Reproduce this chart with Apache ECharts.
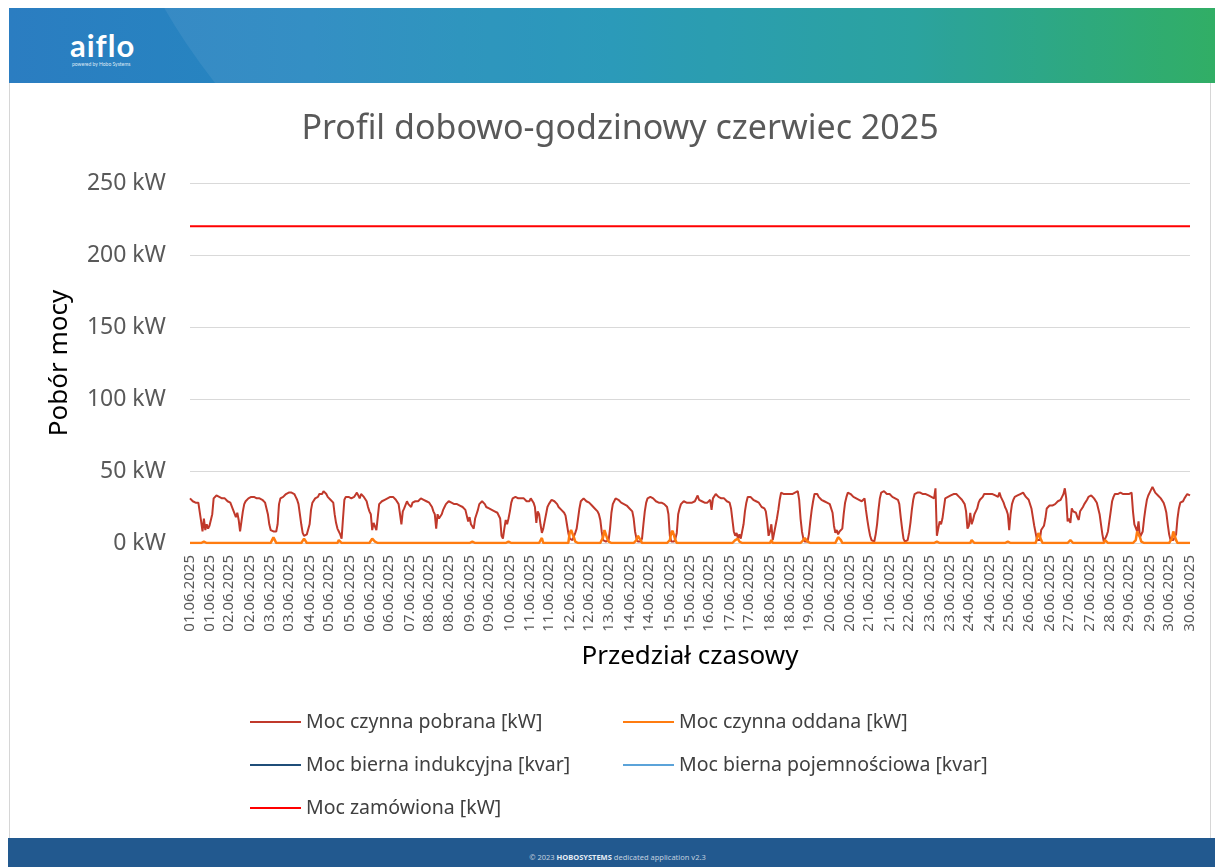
<!DOCTYPE html>
<html>
<head>
<meta charset="utf-8">
<title>Profil dobowo-godzinowy czerwiec 2025</title>
<script src="https://cdn.jsdelivr.net/npm/echarts@6/dist/echarts.min.js"></script>
<style>
body {
  margin: 0px;
  padding: 0px;
  width: 1215px;
  height: 867px;
  overflow: hidden;
  position: relative;
  background: #fff;
  font-family: "Noto Sans", sans-serif;
}
#head {
  position: absolute;
  left: 9px;
  top: 8px;
  width: 1206px;
  height: 75px;
  overflow: hidden;
  background: linear-gradient(90deg, #2b7dc1 0%, #2587c0 25%, #1b93b4 50%, #1b9c98 75%, #22a85a 100%);
}
#head .arc {
  position: absolute;
  left: 73px;
  top: -926px;
  width: 3000px;
  height: 1236px;
  border-radius: 618px 0 0 618px;
  background: rgba(255, 255, 255, 0.07);
}
#logo {
  position: absolute;
  left: 61px;
  top: 18px;
  color: #fff;
  font-family: Lato, sans-serif;
  font-weight: bold;
  font-size: 31px;
  letter-spacing: 1px;
}
#logo small {
  display: block;
  font-size: 5px;
  font-weight: normal;
  margin-top: -3px;
  margin-left: 2px;
  letter-spacing: 0px;
  color: #dfeaf5;
}
#panel {
  position: absolute;
  left: 9px;
  top: 83px;
  width: 1202px;
  height: 755px;
  border-left: 1px solid #d6d6d6;
  border-right: 1px solid #d6d6d6;
  box-sizing: border-box;
}
#foot {
  position: absolute;
  left: 8px;
  top: 838px;
  width: 1207px;
  height: 29px;
  background: #22598f;
  color: #c2d0df;
  font-size: 7.5px;
  text-align: center;
  line-height: 38px;
  padding-left: 12px;
  box-sizing: border-box;
}
#foot b { color: #e6edf5; }
#chart {
  position: absolute;
  left: 0px;
  top: 0px;
  width: 1215px;
  height: 867px;
  z-index: 2;
}
</style>
</head>
<body>
<div id="head"><div class="arc"></div><div id="logo">aiflo<small>powered by Hobo Systems</small></div></div>
<div id="panel"></div>
<div id="foot">© 2023 <b>HOBOSYSTEMS</b> dedicated application v2.3</div>
<div id="chart"></div>
<script>
// moc czynna pobrana [kW], wartości godzinowe, jeden wiersz = jeden dzień
const pobrana = [
  31,30,29,28,28,28,28,27,15,8,17,9,13,10,12,12,20,31,32,33,33,32,32,31,
  31,31,30,29,29,28,27,23,22,18,21,16,8,15,22,27,29,30,31,31,32,32,32,32,
  31,31,31,30,30,29,28,27,20,13,9,8,8,7,8,13,27,31,31,32,32,34,35,35,
  35,35,35,34,32,30,27,20,13,7,5,5,6,7,13,23,28,29,31,32,32,34,35,34,
  36,36,34,32,31,30,29,28,20,14,10,8,6,3,17,30,32,31,32,31,31,31,32,31,
  35,34,31,34,34,32,31,29,25,22,20,9,14,13,9,10,27,28,29,29,30,30,31,32,
  32,33,32,31,30,29,27,20,13,22,24,25,29,27,28,25,28,28,29,28,29,30,31,31,
  30,29,29,28,28,27,25,22,20,10,20,17,18,20,23,25,27,28,29,29,28,28,27,27,
  27,26,26,25,25,25,23,22,15,18,13,14,10,17,20,23,27,28,29,28,27,25,25,24,
  24,23,23,22,22,21,20,17,5,3,10,16,13,17,22,28,31,30,32,32,31,32,31,30,
  31,30,29,29,29,31,32,28,25,14,22,20,13,7,10,15,20,25,27,28,30,30,29,28,
  27,25,24,23,22,21,19,13,7,3,2,2,3,7,10,17,24,29,30,31,30,29,28,28,
  27,26,25,24,23,22,20,16,8,2,1,1,2,2,10,21,27,29,31,31,30,29,28,28,
  27,27,26,25,24,23,22,17,8,3,1,1,1,3,13,22,28,31,32,32,32,31,30,29,
  29,28,28,28,27,27,26,25,20,5,1,1,1,3,7,20,24,27,28,29,28,28,28,28,
  28,28,28,29,30,33,30,29,29,28,28,28,28,29,30,23,31,32,34,33,32,32,31,31,
  31,30,29,29,28,24,16,8,5,7,3,6,3,2,13,22,28,32,32,32,31,30,29,29,
  28,28,27,25,25,24,22,15,5,8,13,2,7,12,17,23,30,35,35,34,34,34,34,34,
  34,34,34,35,35,36,30,17,8,3,1,2,1,6,15,23,29,34,35,34,32,31,30,29,
  29,29,28,28,27,27,21,12,7,9,6,8,8,10,20,28,32,35,35,34,33,32,32,31,
  31,30,30,29,28,31,23,16,10,5,2,1,1,6,13,23,31,35,36,36,35,34,34,34,
  33,32,32,31,31,30,27,18,10,3,1,1,2,7,14,23,30,34,35,35,36,35,35,34,
  34,34,33,33,32,32,31,31,38,5,10,15,13,17,24,31,32,32,32,33,34,34,35,34,
  34,32,31,30,29,27,22,10,12,21,13,16,20,22,24,28,30,31,32,34,34,34,35,34,
  34,34,34,33,33,32,35,32,31,28,25,23,20,9,20,27,30,32,32,33,34,34,35,35,
  36,32,31,30,29,24,18,12,7,2,1,2,9,9,12,17,24,25,26,26,26,27,27,28,
  29,29,30,32,34,38,31,15,17,14,24,22,23,21,18,16,22,23,25,27,28,30,32,33,
  33,32,31,30,28,24,20,13,6,1,3,5,8,15,22,29,32,34,34,34,35,35,35,34,
  34,34,34,34,34,35,22,13,12,8,15,4,5,8,17,24,30,33,35,36,39,37,35,34,
  33,32,31,30,28,25,21,13,6,2,3,2,2,6,17,24,28,27,29,31,32,34,34,33
];

// moc czynna oddana [kW]
const oddana = [
  0,0,0,0,0,0,0,0,0,0,1,2,0,0,0,0,0,0,0,0,0,0,0,0,
  0,0,0,0,0,0,0,0,0,0,0,0,0,1,0,0,0,0,0,0,0,0,0,0,
  0,0,0,0,0,0,0,0,0,0,0,2,4,2,0,0,0,0,0,0,0,0,0,0,
  0,0,0,0,0,0,0,0,0,0,3,3,0,0,0,0,0,0,0,0,0,0,0,0,
  0,0,0,0,0,0,0,0,0,0,0,2,3,0,0,0,0,0,0,0,0,0,0,0,
  0,0,0,0,0,0,0,0,0,0,0,3,3.5,1,0,0,0,0,0,0,0,0,0,0,
  0,0,0,0,0,0,0,0,1,0,0,0,0,0,0,0,0,0,0,0,0,0,0,0,
  0,0,0,0,0,0,0,0,0,0,0,0,0,0,0,0,0,0,0,0,0,0,0,0,
  0,0,0,0,0,0,0,0,0,0,0,1,0,0,0,0,0,0,0,0,0,0,0,0,
  0,0,0,0,0,0,0,0,0,0,0,0,0,1,0,0,0,0,0,0,0,0,0,0,
  0,0,0,0,0,0,0,0,0,0,0,0,0,3.5,0,0,0,0,0,0,0,0,0,0,
  0,0,0,0,0,0,0,0,0,7,9,8,4,1,0,0,0,0,0,0,0,0,0,0,
  0,0,0,0,0,0,0,0,0,4,9,8,3,1,0,0,0,0,0,0,0,0,0,0,
  0,0,0,0,0,0,0,0,0,2,5,5,2,0,0,0,0,0,0,0,0,0,0,0,
  0,0,0,0,0,0,0,0,0,2,7,8.5,8,2,0,0,0,0,0,0,0,0,0,0,
  0,0,0,0,0,0,0,0,0,0,0,0,0,0,0,0,0,0,0,0,0,0,0,0,
  0,0,0,0,0,0,0,0,2,3,3,1,0,0,0,0,0,0,0,0,0,0,0,0,
  0,0,0,0,0,0,0,0,0,0,2,0,0,0,0,0,0,0,0,0,0,0,0,0,
  0,0,0,0,0,0,0,0,0,2,3.5,3.5,1,0,0,0,0,0,0,0,0,0,0,0,
  0,0,0,0,0,0,0,0,0,2,4,4,2,0,0,0,0,0,0,0,0,0,0,0,
  0,0,0,0,0,0,0,0,0,0,1,0,0,0,0,0,0,0,0,0,0,0,0,0,
  0,0,0,0,0,0,0,0,0,0,0,0,0,0,0,0,0,0,0,0,0,0,0,0,
  0,0,0,0,0,0,0,0,0,1,1,0,0,0,0,0,0,0,0,0,0,0,0,0,
  0,0,0,0,0,0,0,0,0,0,2,2,0,0,0,0,0,0,0,0,0,0,0,0,
  0,0,0,0,0,0,0,0,0,0,0,0,1,0,0,0,0,0,0,0,0,0,0,0,
  0,0,0,0,0,0,0,0,0,3,7,6,2,0,0,0,0,0,0,0,0,0,0,0,
  0,0,0,0,0,0,0,0,0,2,1,0,0,0,0,0,0,0,0,0,0,0,0,0,
  0,0,0,0,0,0,0,0,0,0,2,2,0,0,0,0,0,0,0,0,0,0,0,0,
  0,0,0,0,0,0,0,0,2,8,9,4,1,0,0,0,0,0,0,0,0,0,0,0,
  0,0,0,0,0,0,0,0,0,0,3,8,9,2,0,0,0,0,0,0,0,0,0,0
];

// moc bierna - brak danych na wykresie
const indukcyjna = [];
const pojemnosciowa = [];

// moc zamówiona [kW]
const zamowiona = 220;

const osY = { min: 0, max: 250, interval: 50 };

// kategorie osi X - kolejne godziny czerwca 2025
const pad = (n) => (n < 10 ? "0" + n : "" + n);
const godziny = [];
for (let d = 1; d <= 30; d++) {
  for (let h = 0; h < 24; h++) {
    godziny.push(pad(d) + ".06.2025 " + pad(h) + ":00");
  }
}
// co która godzina podpisana (51 podpisów)
const podpisy = new Set();
for (let k = 0; k <= 50; k++) podpisy.add(Math.floor((k * (godziny.length - 1)) / 50));

const font = '"Noto Sans", sans-serif';

const legenda = {
  orient: "vertical",
  top: 712,
  padding: 0,
  icon: "rect",
  itemWidth: 51,
  itemHeight: 2,
  itemGap: 23,
  textStyle: { fontSize: 19.5, color: "#404040", fontFamily: font },
};

const option = {
  animation: false,
  textStyle: { fontFamily: font },
  title: {
    text: "Profil dobowo-godzinowy czerwiec 2025",
    left: 615,
    top: 107,
    textAlign: "center",
    textStyle: { fontSize: 34, fontWeight: "normal", color: "#595959", fontFamily: font },
  },
  legend: [
    Object.assign({}, legenda, {
      left: 250,
      data: ["Moc czynna pobrana [kW]", "Moc bierna indukcyjna [kvar]", "Moc zamówiona [kW]"],
    }),
    Object.assign({}, legenda, {
      left: 623,
      data: ["Moc czynna oddana [kW]", "Moc bierna pojemnościowa [kvar]"],
    }),
  ],
  grid: { left: 190, right: 25, top: 183, bottom: 324 },
  xAxis: {
    type: "category",
    boundaryGap: false,
    data: godziny,
    name: "Przedział czasowy",
    nameLocation: "middle",
    nameGap: 101,
    nameTextStyle: { fontSize: 26, color: "#000", fontFamily: font },
    axisLine: { show: false },
    axisTick: { show: false },
    axisLabel: {
      rotate: 90,
      fontSize: 15,
      color: "#595959",
      margin: 12,
      interval: (i) => podpisy.has(i),
      formatter: (v) => v.slice(0, 10),
    },
  },
  yAxis: {
    type: "value",
    min: osY.min,
    max: osY.max,
    interval: osY.interval,
    name: "Pobór mocy",
    nameLocation: "middle",
    nameGap: 117,
    nameTextStyle: { fontSize: 26, color: "#000", fontFamily: font },
    axisLabel: { formatter: "{value} kW", fontSize: 23, color: "#595959", margin: 24 },
    splitLine: { lineStyle: { color: "#d9d9d9", width: 1 } },
  },
  series: [
    {
      name: "Moc czynna pobrana [kW]",
      type: "line",
      data: pobrana,
      symbol: "none",
      color: "#c0392b",
      lineStyle: { width: 2 },
    },
    {
      name: "Moc czynna oddana [kW]",
      type: "line",
      data: oddana,
      symbol: "none",
      color: "#ff7c10",
      lineStyle: { width: 2.5 },
    },
    {
      name: "Moc bierna indukcyjna [kvar]",
      type: "line",
      data: indukcyjna,
      symbol: "none",
      color: "#1f4e79",
      lineStyle: { width: 2 },
    },
    {
      name: "Moc bierna pojemnościowa [kvar]",
      type: "line",
      data: pojemnosciowa,
      symbol: "none",
      color: "#5ba3d9",
      lineStyle: { width: 2 },
    },
    {
      name: "Moc zamówiona [kW]",
      type: "line",
      data: [
        [0, zamowiona],
        [godziny.length - 1, zamowiona],
      ],
      symbol: "none",
      color: "#ff0000",
      lineStyle: { width: 2 },
    },
  ],
};

const chart = echarts.init(document.getElementById("chart"));
chart.setOption(option);
</script>
</body>
</html>
